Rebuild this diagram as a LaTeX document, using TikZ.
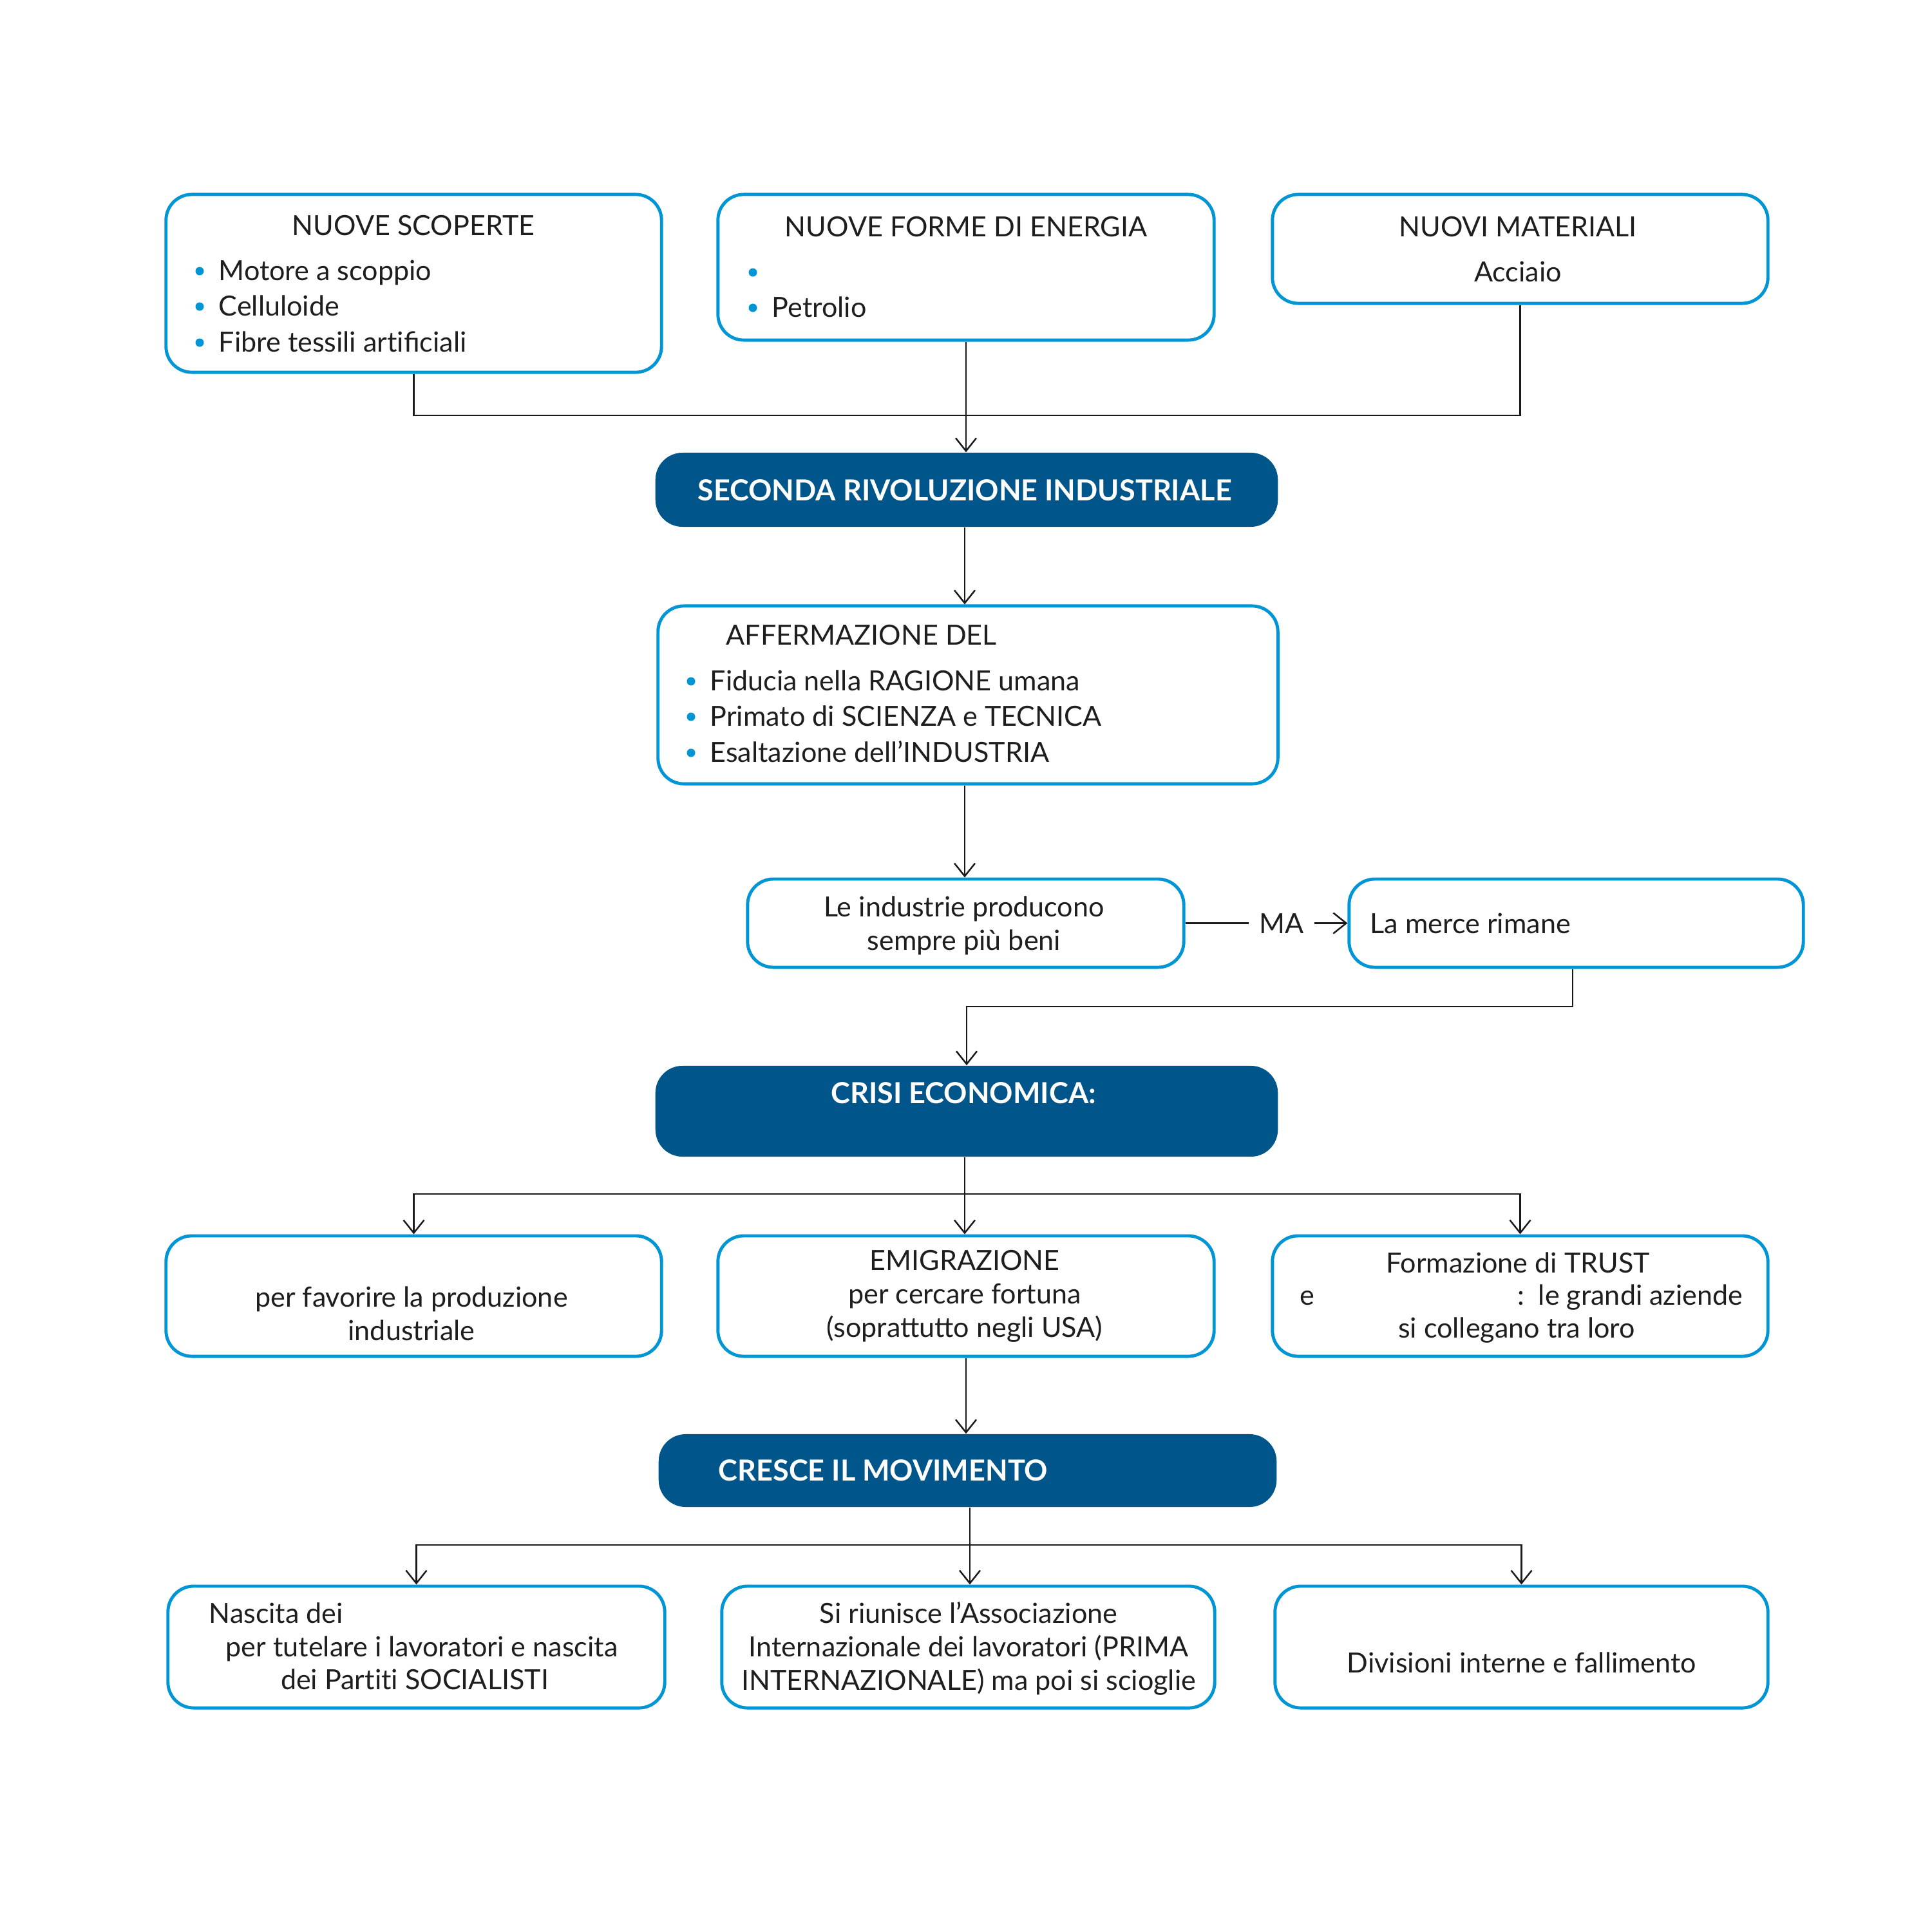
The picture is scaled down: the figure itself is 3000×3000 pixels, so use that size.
\documentclass[tikz,border=0pt]{standalone}
\usepackage{fontspec}
\setmainfont{Lato}
\usetikzlibrary{arrows.meta}
\definecolor{cyanb}{HTML}{0096D6}
\definecolor{navy}{HTML}{00558B}
\definecolor{txt}{HTML}{1E1E1E}
\begin{document}
\begin{tikzpicture}[x=0.01cm,y=-0.01cm,
  font=\fontsize{12.25}{14.8}\selectfont,
  bbox/.style={draw=cyanb, line width=1.4pt, rounded corners=0.4cm, inner sep=0pt, fill=white},
  dbox/.style={fill=navy, rounded corners=0.42cm, inner sep=0pt},
  tx/.style={text=txt, inner sep=0pt},
  wt/.style={text=white, inner sep=0pt, font=\fontsize{12.8}{14.8}\selectfont\bfseries},
  conn/.style={draw=black!90, line width=0.7pt},
  arr/.style={conn, -{Straight Barb[length=0.2cm,width=0.32cm]}},
  bul/.style={circle, fill=cyanb, minimum size=0.13cm, inner sep=0pt}]
\useasboundingbox[fill=white] (0,0) rectangle (3000,3000);

% ---- top row boxes
\node[bbox, minimum width=7.69cm, minimum height=2.76cm] (b1) at (642.5,440) {};
\node[bbox, minimum width=7.70cm, minimum height=2.26cm] (b2) at (1500,415) {};
\node[bbox, minimum width=7.69cm, minimum height=1.69cm] (b3) at (2360.5,386.5) {};

\node[tx] (b1t) at (642,350) {NUOVE SCOPERTE};
\node[bul] (b1d1) at (310,421) {};
\node[bul] (b1d2) at (310,476) {};
\node[bul] (b1d3) at (310,532) {};
\node[tx, anchor=mid west] (b1l1) at (339,427) {Motore a scoppio};
\node[tx, anchor=mid west] (b1l2) at (339,482) {Celluloide};
\node[tx, anchor=mid west] (b1l3) at (339,538) {Fibre tessili art\kern0pt ificiali};

\node[tx] (b2t) at (1500,352) {NUOVE FORME DI ENERGIA};
\node[bul] (b2d1) at (1169,423) {};
\node[bul] (b2d2) at (1169,478) {};
\node[tx, anchor=mid west] (b2l2) at (1198,484) {Petrolio};

\node[tx] (b3t) at (2357,352) {NUOVI MATERIALI};
\node[tx, anchor=mid] (b3l1) at (2357,429) {Acciaio};

% ---- seconda rivoluzione
\node[dbox, minimum width=9.66cm, minimum height=1.15cm] (s1) at (1501,760.5) {};
\node[wt] (s1t) at (1498,761) {SECONDA RIVOLUZIONE INDUSTRIALE};

\coordinate (j1) at (1500,645);
\draw[conn] (b1.south) |- (j1);
\draw[conn] (b3.south) |- (j1);
\draw[arr] (b2.south) -- (b2.south |- s1.north);

% ---- affermazione
\node[bbox, minimum width=9.62cm, minimum height=2.76cm] (aff) at (1503,1079) {};
\node[tx, anchor=mid west] (afft) at (1127,993) {AFFERMAZIONE DEL};
\node[bul] (affd1) at (1073,1058) {};
\node[bul] (affd2) at (1073,1113) {};
\node[bul] (affd3) at (1073,1169) {};
\node[tx, anchor=mid west] (affl1) at (1102,1064) {Fiducia nella RAGIONE umana};
\node[tx, anchor=mid west] (affl2) at (1102,1119) {Primato di SCIENZA e TECNICA};
\node[tx, anchor=mid west] (affl3) at (1102,1175) {Esaltazione dell’INDUSTRIA};
\draw[arr] (s1.south -| 1498,0) -- (aff.north -| 1498,0);

% ---- industrie / merce
\node[bbox, minimum width=6.77cm, minimum height=1.37cm] (li) at (1499.5,1433.5) {};
\node[tx, align=center] (lit) at (1497,1437) {Le industrie producono\\sempre più beni};
\node[bbox, minimum width=7.05cm, minimum height=1.37cm] (lm) at (2447.5,1433.5) {};
\node[tx, anchor=mid west] (lmt) at (2127,1441) {La merce rimane};
\node[tx, anchor=mid] (ma) at (1990,1441) {MA};
\coordinate (maL) at ([xshift=-0.16cm]ma.west |- li.east);
\coordinate (maR) at ([xshift=0.16cm]ma.east |- li.east);
\draw[conn] (li.east) -- (maL);
\draw[arr] (maR) -- (lm.west);
\draw[arr] (aff.south -| 1498,0) -- (li.north -| 1498,0);

% ---- crisi
\node[dbox, minimum width=9.66cm, minimum height=1.41cm] (cr) at (1501,1725.5) {};
\node[wt] (crt) at (1496,1697) {CRISI ECONOMICA:};
\coordinate (j2) at (2442,1563);
\draw[arr] (lm.south -| j2) -- (j2) -| (cr.north);

% ---- second row
\node[bbox, minimum width=7.69cm, minimum height=1.87cm] (r1) at (642.5,2012.5) {};
\node[bbox, minimum width=7.70cm, minimum height=1.87cm] (r2) at (1500,2012.5) {};
\node[bbox, minimum width=7.69cm, minimum height=1.87cm] (r3) at (2360.5,2012.5) {};
\coordinate (j3) at (1498,1854);
\draw[conn] (cr.south -| j3) -- (j3);
\draw[arr] (j3) -| (r1.north);
\draw[arr] (j3) -- (r2.north -| j3);
\draw[arr] (j3) -| (r3.north);

\node[tx, align=center] (r1t) at (639,2040) {per favorire la produzione\\industriale};
\node[tx, align=center] (r2t) at (1498,2013) {EMIGRAZIONE\\per cercare fortuna\\(soprattutto negli USA)};
\node[tx] (r3a) at (2357,1961) {Formazione di TRUST};
\node[tx, anchor=mid west] (r3b) at (2018,2018) {e};
\node[tx, anchor=mid east] (r3c) at (2707,2018) {:\hspace{0.5em}le grandi aziende};
\node[tx] (r3d) at (2355,2066) {si collegano tra loro};

% ---- cresce
\node[dbox, minimum width=9.59cm, minimum height=1.13cm] (cm) at (1502.5,2283.5) {};
\node[wt, anchor=mid west] (cmt) at (1115,2291) {CRESCE IL MOVIMENTO};
\draw[arr] (r2.south) -- (r2.south |- cm.north);

% ---- bottom row
\node[bbox, minimum width=7.71cm, minimum height=1.89cm] (q1) at (646.5,2557.5) {};
\node[bbox, minimum width=7.65cm, minimum height=1.89cm] (q2) at (1503.5,2557.5) {};
\node[bbox, minimum width=7.65cm, minimum height=1.89cm] (q3) at (2362.5,2557.5) {};
\coordinate (j4) at (1506,2399);
\draw[conn] (cm.south -| j4) -- (j4);
\draw[arr] (j4) -| (q1.north);
\draw[arr] (j4) -- (q2.north -| j4);
\draw[arr] (j4) -| (q3.north);

\node[tx, anchor=mid west] (q1a) at (324,2512) {Nascita dei};
\node[tx, anchor=mid west] (q1b) at (350,2564) {per tutelare i lavoratori e nascita};
\node[tx, anchor=mid] (q1c) at (644,2615) {dei Part\kern0pt it\kern0pt i SOCIALISTI};
\node[tx, align=center] (q2t) at (1504,2560) {Si riunisce l’Associazione\\Internazionale dei lavoratori (PRIMA\\INTERNAZIONALE) ma poi si scioglie};
\node[tx, anchor=mid] (q3t) at (2363,2589) {Divisioni interne e fallimento};
\end{tikzpicture}
\end{document}
